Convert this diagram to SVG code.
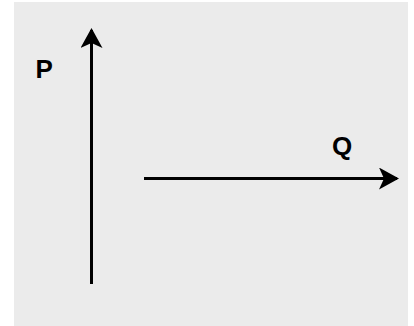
<svg xmlns="http://www.w3.org/2000/svg" width="414" height="326" viewBox="0 0 414 326">
<style>
.lbl{font-family:"Liberation Sans",Arial,sans-serif;font-weight:bold;font-size:26px;fill:#000}
.ax{stroke:#000;stroke-width:3;fill:none}
</style>
<defs>
<marker id="ah" markerUnits="userSpaceOnUse" viewBox="0 0 20 22" refX="18" refY="11" markerWidth="20" markerHeight="22" orient="auto">
<path d="M0,0 L20,11 L0,22 L5,11 Z" fill="#000"/>
</marker>
</defs>
<rect x="14" y="2" width="394" height="324" fill="#ebebeb"/>
<g id="connectors">
<line class="ax" x1="91.5" y1="284" x2="91.5" y2="30" marker-end="url(#ah)"/>
<line class="ax" x1="144" y1="178.5" x2="397" y2="178.5" marker-end="url(#ah)"/>
</g>
<g id="P"><text class="lbl" x="35.5" y="78">P</text></g>
<g id="Q"><text class="lbl" x="332" y="155">Q</text></g>
</svg>
